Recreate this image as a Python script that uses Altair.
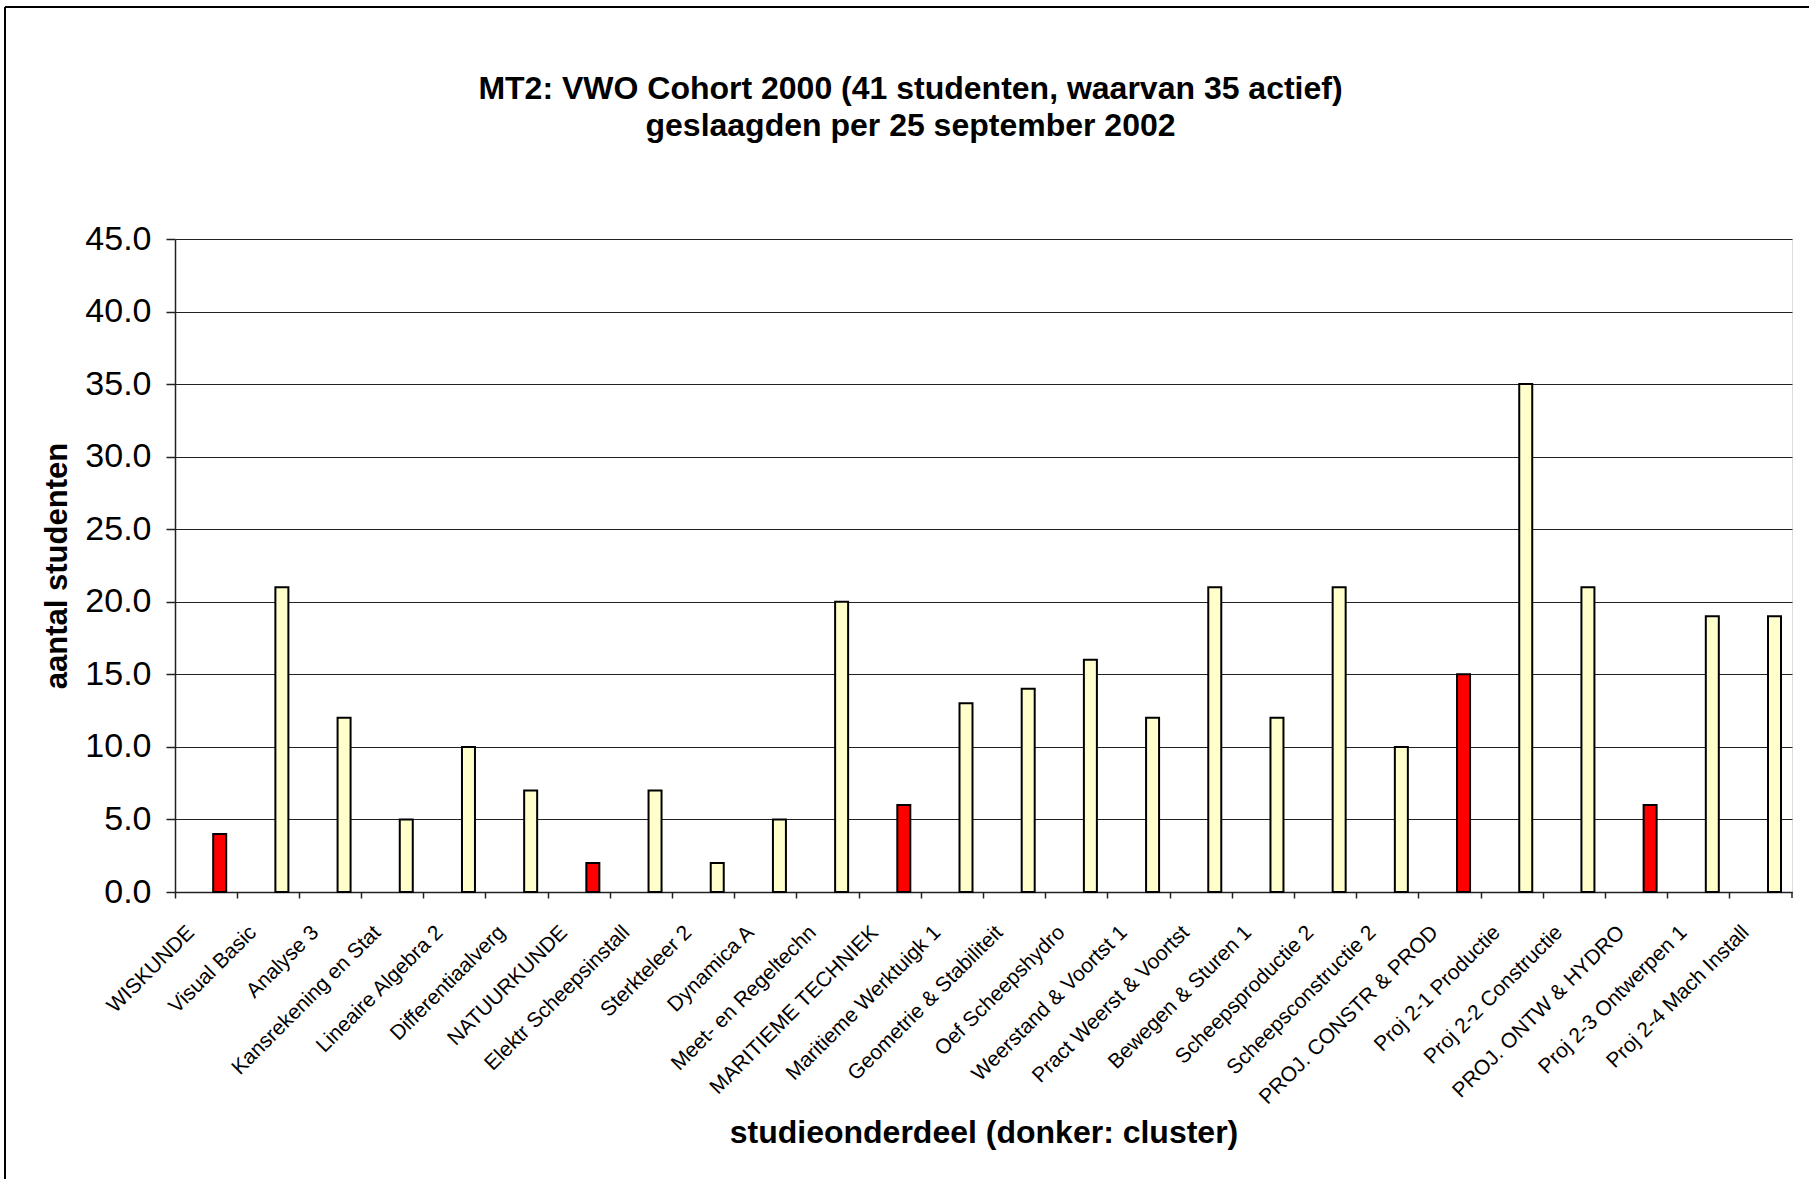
import altair as alt
import pandas as pd

categories = [
    "WISKUNDE", "Visual Basic", "Analyse 3", "Kansrekening en Stat",
    "Lineaire Algebra 2", "Differentiaalverg", "NATUURKUNDE",
    "Elektr Scheepsinstall", "Sterkteleer 2", "Dynamica A",
    "Meet- en Regeltechn", "MARITIEME TECHNIEK", "Maritieme Werktuigk 1",
    "Geometrie & Stabiliteit", "Oef Scheepshydro", "Weerstand & Voortst 1",
    "Pract Weerst & Voortst", "Bewegen & Sturen 1", "Scheepsproductie 2",
    "Scheepsconstructie 2", "PROJ. CONSTR & PROD", "Proj 2-1 Productie",
    "Proj 2-2 Constructie", "PROJ. ONTW & HYDRO", "Proj 2-3 Ontwerpen 1",
    "Proj 2-4 Mach Install",
]
values = [4, 21, 12, 5, 10, 7, 2, 7, 2, 5, 20, 6, 13, 14, 16, 12, 21, 12, 21,
          10, 15, 35, 21, 6, 19, 19]
kinds = ["cluster", "vak", "vak", "vak", "vak", "vak", "cluster", "vak", "vak",
         "vak", "vak", "cluster", "vak", "vak", "vak", "vak", "vak", "vak", "vak",
         "vak", "cluster", "vak", "vak", "cluster", "vak", "vak"]
y_ticks = [0, 5, 10, 15, 20, 25, 30, 35, 40, 45]

df = pd.DataFrame({"vak": categories, "aantal": values, "soort": kinds})

FONT = "Liberation Sans"
W, H = 1617, 653
PAD_L, PAD_T = 175, 239

bars = alt.Chart(df).mark_bar(
    width=13, xOffset=13.6, stroke="black", strokeWidth=2
).encode(
    x=alt.X(
        "vak:N", sort=categories,
        scale=alt.Scale(paddingInner=0, paddingOuter=0),
        axis=alt.Axis(
            title="studieonderdeel (donker: cluster)",
            titleFont=FONT, titleFontSize=32, titleFontWeight="bold",
            titleColor="black", titleY=240, titleBaseline="middle",
            labelFont=FONT, labelFontSize=21, labelColor="black",
            labelAngle=-45, labelAlign="right", labelBaseline="middle",
            labelOffset=-15, labelPadding=31, labelLimit=400, labelOverlap=False,
            bandPosition=0, tickSize=6, tickColor="#222", tickWidth=1.5,
            domainColor="#222", domainWidth=1.5, grid=False,
        ),
    ),
    y=alt.Y(
        "aantal:Q",
        scale=alt.Scale(domain=[0, 45], nice=False),
        axis=alt.Axis(
            title="aantal studenten", values=y_ticks, format=".1f",
            titleFont=FONT, titleFontSize=31, titleFontWeight="bold",
            titleColor="black", titleX=-118, titleY=H / 2,
            titleAngle=270, titleAlign="center", titleBaseline="middle",
            labelFont=FONT, labelFontSize=34, labelColor="black",
            labelPadding=15, labelBaseline="middle",
            tickSize=9, tickColor="#222", tickWidth=1.5,
            domainColor="#222", domainWidth=1.5,
            grid=True, gridColor="#222", gridWidth=1,
        ),
    ),
    color=alt.Color(
        "soort:N",
        scale=alt.Scale(domain=["cluster", "vak"], range=["#FF0000", "#FFFFCC"]),
        legend=None,
    ),
)

frame_data = alt.Data(values=[{"f": 1}])
frame_top = alt.Chart(frame_data).mark_rule(color="black", strokeWidth=2).encode(
    x=alt.value(-170), x2=alt.value(1809 - PAD_L + 10), y=alt.value(-232)
)
frame_left = alt.Chart(frame_data).mark_rule(color="black", strokeWidth=2).encode(
    x=alt.value(-170), y=alt.value(-232), y2=alt.value(1179 - PAD_T + 10)
)
end_tick = alt.Chart(frame_data).mark_rule(color="#222", strokeWidth=1.5).encode(
    x=alt.value(W), y=alt.value(H), y2=alt.value(H + 6)
)

chart = alt.layer(bars, frame_top, frame_left, end_tick).properties(
    width=W, height=H,
    autosize=alt.AutoSizeParams(type="none"),
    padding={"left": PAD_L, "top": PAD_T, "right": 1809 - PAD_L - W, "bottom": 1179 - PAD_T - H},
    title=alt.TitleParams(
        text=["MT2: VWO Cohort 2000 (41 studenten, waarvan 35 actief)",
              "geslaagden per 25 september 2002"],
        font=FONT, fontSize=32, fontWeight="bold", color="black",
        lineHeight=37, anchor="middle", frame="group", dx=-73, offset=-137,
    ),
).configure_view(
    stroke="#808080", strokeWidth=2
).configure(background="white")

chart.save("out.html", embed_options={"renderer": "svg", "actions": False})
